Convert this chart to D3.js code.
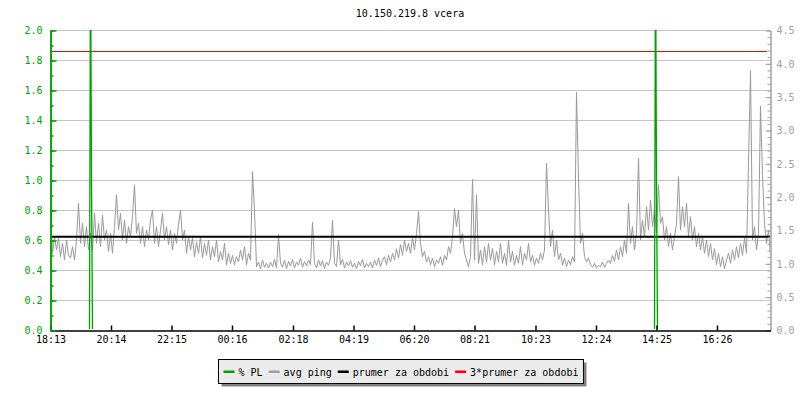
<!DOCTYPE html>
<html>
<head>
<meta charset="utf-8">
<script src="https://cdn.jsdelivr.net/npm/d3@7"></script>
<style>
  html, body { margin: 0; padding: 0; background: #fff; }
  svg { display: block; }
  text { font-family: "DejaVu Sans Mono", monospace; font-size: 10px; }
</style>
</head>
<body>
<svg id="chart" width="800" height="400"></svg>
<script>
// ---------------- DATA ----------------
const title = "10.150.219.8 vcera";
const periodMinutes = 1440;          // 18:13 -> 18:13 next day
const pingStepMinutes = 4;           // one avg ping sample every 4 minutes
// avg ping (ms, right axis)
const avgPing = [
  1.80,1.15,1.40,1.20,1.38,1.10,1.30,1.05,1.35,1.12,
  1.08,1.25,1.05,1.35,1.90,1.30,1.60,1.25,1.55,1.20,
  1.45,1.20,1.75,1.30,1.60,1.25,1.72,1.35,1.50,1.18,
  1.45,1.15,1.55,2.03,1.50,1.75,1.35,1.65,1.30,1.55,
  1.40,1.70,2.18,1.45,1.60,1.30,1.55,1.25,1.50,1.35,
  1.65,1.80,1.30,1.55,1.25,1.50,1.75,1.35,1.55,1.28,
  1.50,1.20,1.45,1.30,1.58,1.80,1.35,1.50,1.15,1.40,
  1.20,1.38,1.10,1.32,1.15,1.40,1.08,1.30,1.12,1.35,
  1.05,1.25,1.10,1.35,1.02,1.18,1.05,1.30,0.98,1.15,
  1.00,1.12,0.98,1.10,1.02,1.20,1.05,1.25,0.98,1.15,
  1.05,2.38,1.80,0.95,1.02,0.92,1.05,0.94,1.00,0.93,
  1.02,0.95,1.06,0.93,1.43,1.00,0.94,1.05,0.92,1.03,
  0.96,1.06,0.93,1.02,0.97,1.08,0.94,1.03,0.96,1.05,
  0.98,1.62,1.00,0.93,1.05,0.96,1.04,0.92,1.02,0.97,
  1.08,1.65,1.00,0.95,1.35,0.98,1.06,0.93,1.02,0.96,
  1.04,0.94,1.00,0.92,1.03,0.96,1.06,0.93,1.00,0.95,
  1.02,0.93,1.05,0.97,1.08,0.95,1.04,1.10,0.98,1.12,
  1.02,1.15,1.05,1.22,1.08,1.28,1.12,1.35,1.18,1.30,
  1.15,1.38,1.20,1.45,1.78,1.30,1.10,1.18,1.02,1.10,
  0.98,1.08,0.95,1.05,1.00,1.10,0.97,1.12,1.05,1.25,
  1.15,1.40,1.82,1.55,1.80,1.30,1.45,1.15,1.05,0.95,
  1.10,2.26,1.05,2.03,1.00,1.20,0.98,1.25,1.02,1.30,
  1.05,1.22,0.98,1.18,1.02,1.30,1.00,1.15,0.97,1.35,
  1.02,1.18,0.97,1.12,1.00,1.25,0.98,1.15,1.05,1.30,
  1.02,1.12,0.97,1.08,1.00,1.15,1.05,1.20,2.50,1.80,
  1.25,1.50,1.10,1.35,1.05,1.15,0.97,1.08,0.95,1.05,
  0.98,1.10,1.02,3.57,2.28,1.30,1.45,1.10,1.02,1.08,
  0.98,0.94,1.00,0.93,0.97,0.95,1.02,0.94,1.00,1.05,
  1.00,1.12,1.03,1.20,1.05,1.25,1.10,1.35,1.15,1.90,
  1.30,1.55,1.20,1.45,2.58,1.35,1.65,1.40,1.85,1.50,
  1.95,1.55,1.80,1.45,2.18,1.60,1.70,1.35,1.55,1.25,
  1.45,1.20,1.40,1.60,2.30,1.50,1.85,1.55,1.90,1.40,
  1.70,1.35,1.55,1.25,1.45,1.20,1.40,1.15,1.35,1.10,
  1.30,1.05,1.22,0.98,1.15,0.95,1.10,0.92,1.05,1.15,
  1.00,1.20,1.05,1.25,1.08,1.30,1.12,1.38,1.15,2.50,
  3.89,1.35,1.55,1.20,1.45,3.36,2.32,1.60,1.30,1.50,
  1.10
];
// packet loss (%, left axis): [minute offset, value]
const packetLoss = [
  [0,0],[78,0],[80,2.6],[82,1.0],[84,0],
  [1208,0],[1210,2.6],[1212,1.0],[1214,0],[1440,0]
];
const pingMean = 1.397;              // prumer za obdobi (ms)
const pingMeanTimes3 = 4.19;         // 3*prumer za obdobi (ms)
const xTickMinutes = [0,121,242,363,485,606,727,848,970,1091,1212,1333];
const xTickLabels = ["18:13","20:14","22:15","00:16","02:18","04:19","06:20","08:21","10:23","12:24","14:25","16:26"];
const leftDomain = [0, 2.0];
const rightDomain = [0, 4.5];
const legendItems = [
  {label: "% PL", color: "#00a000"},
  {label: "avg ping", color: "#a0a0a0"},
  {label: "prumer za obdobi", color: "#000000"},
  {label: "3*prumer za obdobi", color: "#ff0000"}
];

// ---------------- LAYOUT ----------------
const svg = d3.select("#chart");
const L = 50, R = 770, T = 30, B = 330;
const green = "#00a000", gray = "#999999";

const x = d3.scaleLinear().domain([0, periodMinutes]).range([L, R]);
const yL = d3.scaleLinear().domain(leftDomain).range([B, T]);
const yR = d3.scaleLinear().domain(rightDomain).range([B, T]);

const defs = svg.append("defs");
defs.append("clipPath").attr("id", "plotclip")
  .append("rect").attr("x", L).attr("y", T).attr("width", R - L).attr("height", B - T);
defs.append("clipPath").attr("id", "plclip")
  .append("rect").attr("x", L).attr("y", T).attr("width", R - L).attr("height", B - T - 1);

// title
svg.append("text").attr("x", (L + R) / 2).attr("y", 17)
  .attr("text-anchor", "middle").attr("fill", "#000").text(title);

// grid lines
const g0 = svg.append("g").attr("transform", "translate(0,0.5)");
g0.selectAll("line.grid").data(yL.ticks(10).filter(v => v > 0))
  .join("line").attr("class", "grid")
  .attr("x1", L).attr("x2", R)
  .attr("y1", d => Math.round(yL(d))).attr("y2", d => Math.round(yL(d)))
  .attr("stroke", "#c4c4c4").attr("stroke-width", 1);

const plot = svg.append("g").attr("clip-path", "url(#plotclip)");

// avg ping line
const pingLine = d3.line()
  .x((d, i) => x(i * pingStepMinutes) + 0.5)
  .y(d => yR(d));
plot.append("path").datum(avgPing)
  .attr("d", pingLine).attr("fill", "none")
  .attr("stroke", gray).attr("stroke-width", 1);

// mean lines
plot.append("line").attr("x1", L).attr("x2", R)
  .attr("y1", yR(pingMean)).attr("y2", yR(pingMean))
  .attr("stroke", "#000").attr("stroke-width", 2);
plot.append("line").attr("x1", L).attr("x2", R - 3)
  .attr("y1", Math.round(yR(pingMeanTimes3)) + 0.5).attr("y2", Math.round(yR(pingMeanTimes3)) + 0.5)
  .style("stroke", "#ff0000").attr("stroke-width", 1.2);

// packet loss line
const plLine = d3.line()
  .x(d => Math.round(x(d[0])) + 0.5)
  .y(d => yL(d[1]));
svg.append("g").attr("clip-path", "url(#plclip)")
  .append("path").datum(packetLoss)
  .attr("d", plLine).attr("fill", "none")
  .attr("stroke", green).attr("stroke-width", 1.3);

// left axis (green)
const leftMinor = svg.append("g").attr("transform", `translate(${L + 0.5},0.5)`)
  .call(d3.axisLeft(yL).ticks(20).tickSizeInner(-3).tickSizeOuter(0).tickFormat(""));
const leftAxis = svg.append("g").attr("transform", `translate(${L + 0.5},0.5)`)
  .call(d3.axisLeft(yL).ticks(10).tickSizeInner(-6).tickSizeOuter(0).tickPadding(8).tickFormat(d3.format(".1f")));
[leftMinor, leftAxis].forEach(a => {
  a.selectAll("path,line").attr("stroke", green).attr("stroke-width", 1.5);
  a.selectAll("text").attr("fill", green).style("font-size", "10px")
    .style("font-family", '"DejaVu Sans Mono", monospace');
});

// right axis (gray)
const rightMinor = svg.append("g").attr("transform", `translate(${R + 0.5},0.5)`)
  .call(d3.axisRight(yR).ticks(45).tickSizeInner(-3).tickSizeOuter(0).tickFormat(""));
const rightAxis = svg.append("g").attr("transform", `translate(${R + 0.5},0.5)`)
  .call(d3.axisRight(yR).ticks(9).tickSizeInner(-5).tickSizeOuter(0).tickPadding(6).tickFormat(d3.format(".1f")));
[rightMinor, rightAxis].forEach(a => {
  a.selectAll("path,line").attr("stroke", "#a0a0a0").attr("stroke-width", 1);
  a.selectAll("text").attr("fill", "#a0a0a0").style("font-size", "10px")
    .style("font-family", '"DejaVu Sans Mono", monospace');
});

// bottom axis (black)
const xAxis = svg.append("g").attr("transform", `translate(0.5,${B + 0.5})`)
  .call(d3.axisBottom(x).tickValues(xTickMinutes).tickSizeInner(-5).tickSizeOuter(0).tickPadding(5)
    .tickFormat((d, i) => xTickLabels[i]));
xAxis.selectAll("path,line").attr("stroke", "#000").attr("stroke-width", 1.5);
xAxis.selectAll("text").attr("fill", "#000").style("font-size", "10px")
  .style("font-family", '"DejaVu Sans Mono", monospace');
leftAxis.raise();

// legend
const lg = svg.append("g");
const lgShadow = lg.append("rect");
const lgBox = lg.append("rect");
const items = lg.append("g");
let cx = 0;
legendItems.forEach((it, i) => {
  const gi = items.append("g").attr("transform", `translate(${cx},0)`);
  gi.append("rect").attr("x", 0).attr("y", -1).attr("width", 11).attr("height", 2.5).attr("fill", it.color);
  const t = gi.append("text").attr("x", 15).attr("y", 4).attr("fill", "#000").text(it.label);
  const w = t.node().getComputedTextLength();
  cx += 15 + w + 6;
});
const itemsW = cx - 6;
const boxW = itemsW + 10, boxH = 24;
const boxX = Math.round((L + R) / 2 - boxW / 2 - 10) + 0.5, boxY = 359.5;
items.attr("transform", `translate(${boxX + 5},${boxY + 12})`);
lgShadow.attr("x", boxX + 3).attr("y", boxY + 3).attr("width", boxW).attr("height", boxH).attr("fill", "#808080");
lgBox.attr("x", boxX).attr("y", boxY).attr("width", boxW).attr("height", boxH)
  .attr("fill", "#ebebeb").attr("stroke", "#000").attr("stroke-width", 1);
</script>
</body>
</html>
